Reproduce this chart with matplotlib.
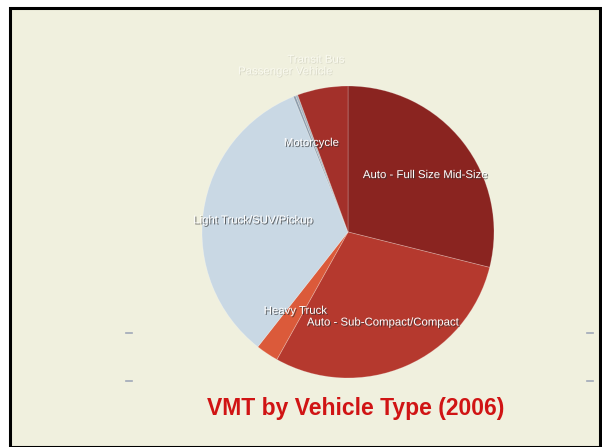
import matplotlib
matplotlib.use('Agg')
import matplotlib.pyplot as plt
import matplotlib.patheffects as pe
from matplotlib.patches import Rectangle

# VMT share by vehicle type (clockwise from 12 o'clock)
categories = ['Auto - Full Size Mid-Size', 'Auto - Sub-Compact/Compact', 'Heavy Truck',
              'Light Truck/SUV/Pickup', 'Transit Bus', 'Passenger Vehicle', 'Motorcycle']
shares = [28.9, 29.2, 2.5, 33.3, 0.25, 0.25, 5.6]
colors = ['#8a2420', '#b5392e', '#db5a3a', '#c9d8e4', '#8c9cac', '#a8b4c0', '#a3302a']

# where each label sits, in pie-radius units
label_xy = [(0.53, 0.39), (0.24, -0.62), (-0.36, -0.54), (-0.65, 0.08),
            (-0.22, 1.18), (-0.43, 1.10), (-0.25, 0.61)]

fig = plt.figure(figsize=(6.02, 4.47), dpi=100)
fig.patch.set_facecolor('white')
ax = fig.add_axes([0, 0, 1, 1])

# panel
ax.add_patch(Rectangle((10, 0), 590, 439, facecolor='#f0f0de', edgecolor='black', lw=2.2))

cx, cy, r = 348, 215, 146
ax.pie(shares, colors=colors, startangle=90, counterclock=False,
       center=(cx, cy), radius=r, frame=True,
       wedgeprops=dict(linewidth=0.6, edgecolor=(1, 1, 1, 0.25)))
ax.set_xlim(0, 602)
ax.set_ylim(0, 447)
ax.set_aspect('auto')
ax.axis('off')

shadow = [pe.SimplePatchShadow(offset=(0.8, -0.8), shadow_rgbFace='#333333', alpha=0.7), pe.Normal()]
faint = [pe.SimplePatchShadow(offset=(0.6, -0.6), shadow_rgbFace='#c8c8b8', alpha=0.6), pe.Normal()]
for name, (lx, ly) in zip(categories, label_xy):
    outside = ly > 1.0
    ax.text(cx + lx * r, cy + ly * r, name, ha='center', va='center',
            color='#fafaf0' if outside else 'white',
            fontsize=8.2, family='Liberation Sans',
            path_effects=faint if outside else shadow)

# stray axis ticks
for yy in (114, 66):
    ax.plot([126, 132], [yy, yy], color='#a0a8b8', lw=1.2)
    ax.plot([587, 593], [yy, yy], color='#a0a8b8', lw=1.2)

ax.text(356, 38, 'VMT by Vehicle Type (2006)', ha='center', va='center', color='#d01414',
        fontsize=16.5, fontweight='bold', family='Liberation Sans')

fig.savefig('out.png', dpi=100)
